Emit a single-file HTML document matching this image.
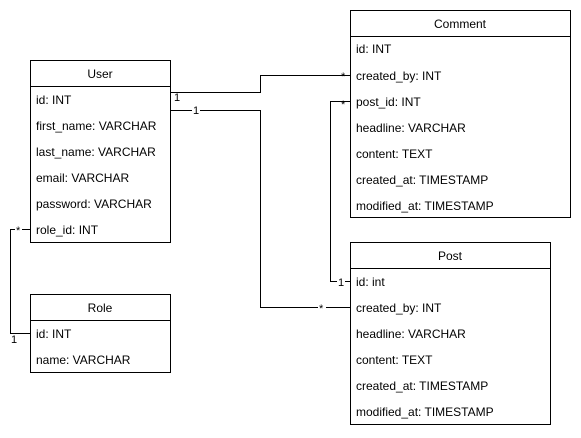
<!DOCTYPE html>
<html><head><style>
html,body{margin:0;padding:0;background:#fff}
svg{display:block}
text{font-family:"Liberation Sans",Arial,sans-serif;font-size:12px;fill:#000}
</style></head><body>
<svg width="581" height="438" viewBox="0 0 581 438">
<g fill="#fff" stroke="#000" stroke-width="1">
<rect x="30.5" y="60.5" width="140" height="182"/><line x1="30" y1="86.5" x2="171" y2="86.5"/>
<rect x="350.5" y="10.5" width="220" height="207"/><line x1="350" y1="36.5" x2="571" y2="36.5"/>
<rect x="350.5" y="242.5" width="200" height="182"/><line x1="350" y1="268.5" x2="551" y2="268.5"/>
<rect x="30.5" y="294.5" width="140" height="78"/><line x1="30" y1="320.5" x2="171" y2="320.5"/>
</g>
<g fill="none" stroke="#000" stroke-width="1">
<polyline points="171,92.5 260.5,92.5 260.5,75.5 350,75.5"/>
<polyline points="171,110.5 260.5,110.5 260.5,307.5 350,307.5"/>
<polyline points="350,101.5 330.5,101.5 330.5,281.5 350,281.5"/>
<polyline points="30,229.5 10.5,229.5 10.5,333.5 30,333.5"/>
</g>
<g text-anchor="middle">
<text x="100" y="78">User</text>
<text x="460" y="28">Comment</text>
<text x="450" y="260">Post</text>
<text x="100" y="312">Role</text>
</g>
<g>
<text x="36" y="104">id: INT</text>
<text x="36" y="130">first_name: VARCHAR</text>
<text x="36" y="156">last_name: VARCHAR</text>
<text x="36" y="182">email: VARCHAR</text>
<text x="36" y="208">password: VARCHAR</text>
<text x="36" y="234">role_id: INT</text>
<text x="356" y="53">id: INT</text>
<text x="356" y="80">created_by: INT</text>
<text x="356" y="106">post_id: INT</text>
<text x="356" y="132">headline: VARCHAR</text>
<text x="356" y="158">content: TEXT</text>
<text x="356" y="184">created_at: TIMESTAMP</text>
<text x="356" y="210">modified_at: TIMESTAMP</text>
<text x="356" y="286">id: int</text>
<text x="356" y="312">created_by: INT</text>
<text x="356" y="338">headline: VARCHAR</text>
<text x="356" y="364">content: TEXT</text>
<text x="356" y="390">created_at: TIMESTAMP</text>
<text x="356" y="416">modified_at: TIMESTAMP</text>
<text x="36" y="338">id: INT</text>
<text x="36" y="364">name: VARCHAR</text>
</g>
<g font-size="11">
<rect x="172" y="93" width="8" height="9" fill="#fff"/><text x="174" y="101" style="font-size:11px">1</text>
<rect x="192" y="104" width="8" height="10" fill="#fff"/><text x="193" y="114" style="font-size:11px">1</text>
<text x="341" y="80" style="font-size:11px">*</text>
<text x="341" y="108" style="font-size:11px">*</text>
<rect x="337" y="276" width="8" height="10" fill="#fff"/><text x="338" y="286" style="font-size:11px">1</text>
<rect x="318" y="302" width="8" height="10" fill="#fff"/><text x="319" y="312" style="font-size:11px">*</text>
<rect x="15" y="225" width="7" height="9" fill="#fff"/><text x="16" y="234" style="font-size:11px">*</text>
<text x="11" y="343" style="font-size:11px">1</text>
</g>
</svg>
</body></html>
